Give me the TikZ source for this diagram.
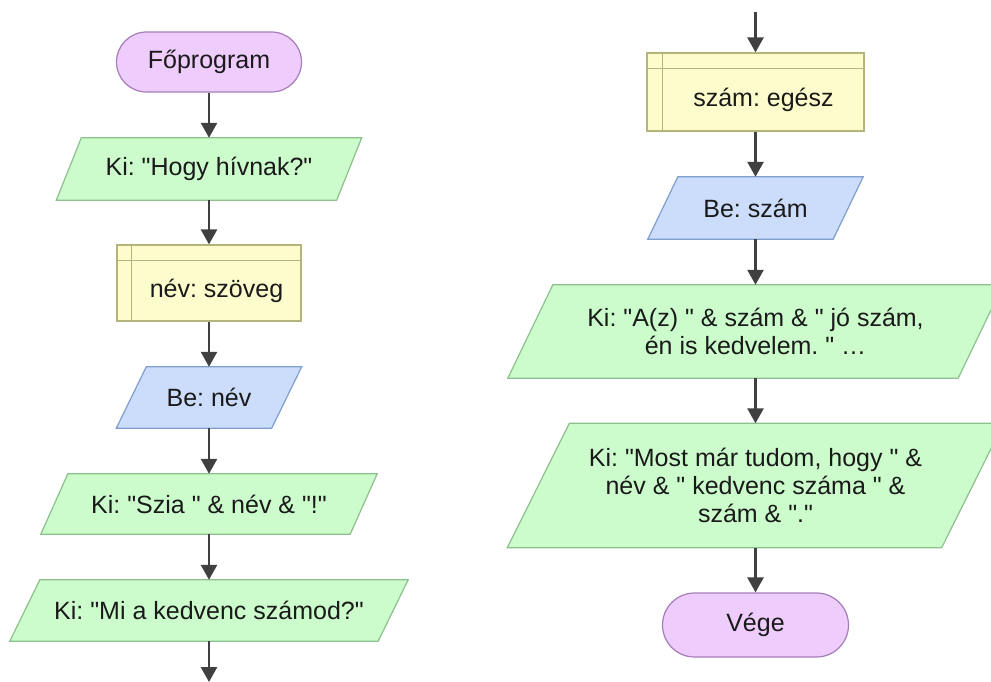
\documentclass[tikz,border=0pt]{standalone}
\usepackage{fontspec}
\setmainfont{Liberation Sans}[Ligatures=TeXOff]
\frenchspacing
\usetikzlibrary{arrows.meta,backgrounds}

\definecolor{termfill}{HTML}{EECCFC}
\definecolor{termdraw}{HTML}{A47EB8}
\definecolor{outfill}{HTML}{CCFCCC}
\definecolor{outdraw}{HTML}{8CC08C}
\definecolor{infill}{HTML}{CCDDFC}
\definecolor{indraw}{HTML}{7E9ECE}
\definecolor{declfill}{HTML}{FCFCCC}
\definecolor{decldraw}{HTML}{B4B47C}
\definecolor{flowline}{HTML}{404040}
\definecolor{textcol}{HTML}{1A1A1A}

% parallelogram drawn around a rectangular node: #1 node, #2 slant, #3 style
\newcommand\slantbox[3]{%
  \path[#3] ([xshift=#2/2]#1.north west) -- ([xshift=#2/2]#1.north east)
    -- ([xshift=-#2/2]#1.south east) -- ([xshift=-#2/2]#1.south west) -- cycle;}

\begin{document}
\begin{tikzpicture}[x=1pt,y=-1pt,
  every node/.style={font=\fontsize{25}{28}\selectfont, text=textcol, inner sep=0pt},
  terminal/.style={draw=termdraw, fill=termfill, line width=1.2pt,
    rounded corners=30pt, minimum width=185pt, minimum height=60pt},
  iobox/.style={rectangle, align=center},
  outshape/.style={draw=outdraw, fill=outfill, line width=1.2pt},
  inshape/.style={draw=indraw, fill=infill, line width=1.2pt},
  declbox/.style={draw=decldraw, fill=declfill, line width=1.2pt},
  declline/.style={draw=decldraw, line width=1.2pt},
  flow/.style={draw=flowline, line width=2.6pt, -{Triangle[width=16pt,length=15pt]}},
]
\useasboundingbox (0,0) rectangle (991,682);

% main program, left column
\node[terminal] (start) at (209,62) {Főprogram};
\node[iobox, minimum width=280pt, minimum height=62pt] (ask) at (209,169) {Ki: "Hogy hívnak?"};
\node[declbox, minimum width=184pt, minimum height=76pt] (dname) at (209,283) {};
\node (dnametext) at ([xshift=7.5pt,yshift=-8pt]dname.center) {név: szöveg};
\node[iobox, minimum width=155pt, minimum height=61pt] (inname) at (209,397.5) {Be: név};
\node[iobox, minimum width=309pt, minimum height=60pt] (greet) at (209,504) {Ki: "Szia " \& név \& "!"};
\node[iobox, minimum width=368pt, minimum height=61pt] (askfav) at (209,610.5) {Ki: "Mi a kedvenc számod?"};
\coordinate (leftend) at (209,682);

% continuation, right column
\coordinate (rightstart) at (755.5,12);
\node[declbox, minimum width=217pt, minimum height=78pt] (dnum) at (755.5,92) {};
\node (dnumtext) at ([xshift=8pt,yshift=-8pt]dnum.center) {szám: egész};
\node[iobox, minimum width=185pt, minimum height=62pt] (innum) at (755.5,208) {Be: szám};
\node[iobox, minimum width=450pt, minimum height=93pt] (praise) at (755.5,331.5)
  {Ki: "A(z) " \& szám \& " jó szám,\\ én is kedvelem. " …};
\node[iobox, minimum width=434pt, minimum height=124pt] (summary) at (755.5,485.5)
  {Ki: "Most már tudom, hogy " \&\\ név \& " kedvenc száma " \&\\ szám \& "."};
\node[terminal, minimum width=186pt, minimum height=64pt, rounded corners=32pt] (stop) at (755.5,625) {Vége};

% slanted input/output shapes behind their texts
\begin{scope}[on background layer]
  \slantbox{ask}{25}{outshape}
  \slantbox{inname}{30}{inshape}
  \slantbox{greet}{27}{outshape}
  \slantbox{askfav}{30}{outshape}
  \slantbox{innum}{30}{inshape}
  \slantbox{praise}{45}{outshape}
  \slantbox{summary}{62}{outshape}
\end{scope}

% header strip and side strip of the declaration boxes
\foreach \d/\dx/\dy in {dname/15/16, dnum/16/16}{
  \draw[declline] ([xshift=\dx pt]\d.north west) -- ([xshift=\dx pt]\d.south west);
  \draw[declline] ([yshift=-\dy pt]\d.north west) -- ([yshift=-\dy pt]\d.north east);
}

% connectors
\draw[flow] (start.south) -- (ask.north);
\draw[flow] (ask.south) -- (dname.north);
\draw[flow] (dname.south) -- (inname.north);
\draw[flow] (inname.south) -- (greet.north);
\draw[flow] (greet.south) -- (askfav.north);
\draw[flow] (askfav.south) -- (leftend);
\draw[flow] (rightstart) -- (dnum.north);
\draw[flow] (dnum.south) -- (innum.north);
\draw[flow] (innum.south) -- (praise.north);
\draw[flow] (praise.south) -- (summary.north);
\draw[flow] (summary.south) -- (stop.north);
\end{tikzpicture}
\end{document}
